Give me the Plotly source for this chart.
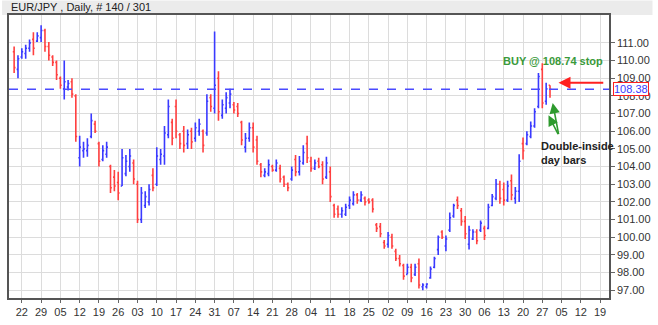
import plotly.graph_objects as go

# ---------------- data (EUR/JPY daily OHLC) ----------------
first_bar = -2  # bar index of first bar relative to the "22" week tick
opens = [110.5, 109.5,
         110.2, 110.4, 110.7, 111.2, 111.1, 111.3, 111.7, 110.8, 110.2, 109.9,
         109.0, 108.4, 108.5, 108.8, 108.0, 104.5, 104.9, 104.9, 105.7, 106.4,
         105.3, 104.4, 104.7, 104.0, 103.4, 103.1, 102.9, 103.6, 104.0, 104.2,
         103.0, 101.0, 101.8, 102.0, 103.5, 103.0, 104.4, 104.6, 105.8, 106.5,
         107.4, 105.8, 106.0, 105.3, 106.0, 105.6, 106.0, 106.0, 105.9, 107.9,
         107.3, 109.0, 106.9, 107.3, 107.6, 107.5, 107.4, 106.5, 105.1, 105.6,
         106.2, 105.5, 104.1, 103.5, 103.6, 104.0, 103.8, 103.9, 103.4, 103.0,
         103.3, 104.4, 103.7, 104.2, 105.3, 104.3, 103.9, 104.3, 104.1, 103.4,
         103.7, 101.8, 101.6, 101.3, 101.3, 101.8, 101.9, 102.4, 102.1, 102.2,
         102.1, 102.1, 100.7, 100.6, 99.7, 99.6, 100.0, 99.2, 98.8, 98.4,
         97.9, 98.3, 97.9, 98.5, 97.2, 97.2, 97.7, 98.3, 99.3, 100.3,
         99.5, 100.4, 101.2, 102.1, 101.5, 100.9, 99.6, 99.9, 100.3, 100.4,
         100.5, 100.5, 101.8, 102.2, 103.0, 102.7, 102.1, 103.2, 102.2, 102.6,
         105.3, 105.3, 105.7, 106.3, 107.4, 109.5, 107.7, 108.6]
highs = [110.8, 110.3,
         110.7, 110.9, 111.2, 111.6, 111.6, 112.0, 111.8, 111.05, 110.3, 110.0,
         109.1, 110.0, 108.9, 109.0, 108.1, 105.75, 105.4, 105.6, 107.0, 106.6,
         105.4, 105.2, 105.4, 104.1, 103.8, 103.7, 105.0, 104.65, 105.0, 104.4,
         103.2, 102.85, 102.6, 103.0, 103.9, 105.1, 105.0, 106.3, 107.8, 106.7,
         107.8, 105.9, 106.3, 106.1, 106.2, 106.5, 106.7, 106.1, 108.1, 108.1,
         111.65, 109.4, 107.8, 108.2, 108.4, 107.65, 107.6, 106.6, 105.9, 106.5,
         106.5, 105.75, 104.2, 103.9, 104.4, 104.1, 104.4, 104.1, 103.5, 103.1,
         104.0, 104.65, 104.6, 105.2, 105.75, 104.55, 104.4, 104.5, 104.3, 104.55,
         104.0, 101.9, 101.8, 101.7, 101.9, 102.3, 102.6, 102.5, 102.6, 102.3,
         102.2, 102.2, 100.8, 100.8, 99.85, 100.3, 100.2, 99.35, 99.0, 98.5,
         98.5, 98.5, 98.5, 98.8, 97.4, 97.4, 98.35, 98.9, 100.1, 100.4,
         100.1, 101.4, 101.9, 102.3, 101.65, 101.2, 100.65, 100.45, 100.45, 100.95,
         100.65, 101.9, 102.45, 103.3, 103.2, 103.1, 103.2, 103.55, 102.85, 104.7,
         105.65, 106.0, 106.55, 107.3, 109.3, 109.85, 108.74, 108.6]
lows = [109.3, 109.0,
        110.1, 110.1, 110.5, 110.3, 111.05, 111.05, 110.5, 110.0, 109.7, 108.9,
        108.4, 107.8, 108.3, 107.9, 105.4, 104.0, 104.5, 104.55, 105.6, 105.9,
        104.0, 104.3, 104.5, 102.5, 102.6, 102.1, 102.9, 103.45, 103.7, 103.0,
        100.8, 100.8, 101.65, 101.8, 102.6, 102.9, 104.1, 104.1, 105.6, 105.2,
        105.6, 105.0, 104.8, 105.0, 105.0, 105.4, 105.75, 104.8, 105.75, 107.1,
        107.0, 106.6, 106.7, 107.0, 107.3, 107.0, 106.8, 105.2, 104.8, 105.4,
        104.8, 104.1, 103.4, 103.4, 103.45, 103.7, 103.7, 103.1, 102.85, 102.6,
        103.2, 103.45, 103.5, 104.1, 104.2, 103.7, 103.8, 103.9, 103.0, 103.3,
        102.0, 101.1, 101.1, 101.1, 101.2, 101.6, 101.8, 101.9, 102.0, 101.8,
        101.9, 101.4, 100.3, 100.0, 99.35, 99.4, 99.35, 98.65, 98.35, 97.6,
        97.9, 97.45, 97.8, 97.1, 97.0, 97.1, 97.65, 98.25, 99.0, 99.9,
        99.2, 100.3, 101.1, 101.6, 100.65, 99.9, 99.3, 99.85, 99.6, 100.3,
        99.85, 100.45, 101.75, 102.1, 101.9, 101.8, 102.0, 102.1, 101.9, 102.0,
        104.4, 105.2, 105.6, 106.2, 107.3, 107.3, 107.5, 107.9]
closes = [109.6, 110.1,
          110.5, 110.7, 111.0, 110.7, 111.4, 111.7, 110.8, 110.3, 109.9, 109.2,
          108.6, 108.8, 108.7, 108.1, 105.7, 105.1, 105.0, 105.2, 106.6, 106.0,
          104.3, 104.9, 105.1, 102.8, 102.9, 102.5, 104.5, 104.3, 104.6, 103.3,
          101.0, 102.5, 102.3, 102.7, 102.8, 104.6, 104.7, 105.9, 107.4, 105.6,
          106.0, 105.3, 105.2, 105.8, 105.4, 106.2, 106.4, 105.2, 107.7, 107.4,
          108.6, 107.1, 107.5, 107.9, 108.1, 107.2, 107.0, 105.5, 105.6, 106.2,
          105.1, 104.3, 103.7, 103.7, 104.1, 103.8, 104.2, 103.3, 103.0, 102.8,
          103.8, 103.7, 104.3, 104.8, 104.5, 103.9, 104.2, 104.0, 103.3, 104.2,
          102.3, 101.3, 101.3, 101.5, 101.7, 102.1, 102.4, 102.1, 102.4, 102.0,
          102.0, 101.6, 100.5, 100.2, 99.5, 100.1, 99.5, 98.8, 98.5, 97.8,
          98.3, 97.7, 98.3, 97.3, 97.3, 97.35, 98.2, 98.8, 100.0, 100.0,
          99.9, 101.1, 101.8, 101.8, 100.9, 100.2, 100.4, 100.3, 99.8, 100.8,
          100.1, 101.7, 102.3, 103.0, 102.2, 102.1, 102.9, 102.4, 102.6, 104.3,
          104.9, 105.8, 106.3, 107.1, 109.1, 107.6, 108.4, 108.38]

week_labels = ["22", "29", "05", "12", "19", "26", "03", "10", "17", "24", "31",
               "07", "14", "21", "28", "04", "11", "18", "25", "02", "09", "16",
               "23", "30", "06", "13", "20", "27", "05", "12", "19"]
bars_per_week = 5
price_ticks = [97, 98, 99, 100, 101, 102, 103, 104, 105, 106, 107, 108, 109, 110, 111]

last_price = 108.38
buy_stop = 108.74
title_text = "EUR/JPY , Daily, # 140 / 301"

# ---------------- figure ----------------
x_idx = [first_bar + k for k in range(len(opens))]
tickvals = [w * bars_per_week for w in range(len(week_labels))]

BLUE = "#3a3aff"
RED = "#ff4040"
font_family = "Liberation Sans, Arial, sans-serif"

fig = go.Figure()
fig.add_trace(go.Ohlc(
    x=x_idx, open=opens, high=highs, low=lows, close=closes,
    increasing=dict(line=dict(color=BLUE, width=1.6)),
    decreasing=dict(line=dict(color=RED, width=1.6)),
    tickwidth=0.35, hoverinfo="skip", showlegend=False,
))

x_left, x_right = -3.33, 152.3
y_bot, y_top = 96.56, 112.58

fig.update_layout(
    width=658, height=325,
    margin=dict(l=7, r=44, t=15, b=17),
    paper_bgcolor="white", plot_bgcolor="white",
    font=dict(family=font_family, size=11, color="#333"),
    xaxis=dict(
        range=[x_left, x_right], rangeslider=dict(visible=False),
        tickmode="array", tickvals=tickvals, ticktext=week_labels,
        showgrid=True, gridcolor="#dcdcdc", gridwidth=1,
        ticks="outside", ticklen=3, tickcolor="#666",
        showline=True, linecolor="#555", linewidth=1.5, mirror=True,
        zeroline=False, tickfont=dict(size=11, color="#333"),
    ),
    yaxis=dict(
        range=[y_bot, y_top], side="right",
        tickmode="array", tickvals=price_ticks,
        ticktext=[f"{v:.2f}" for v in price_ticks],
        showgrid=True, gridcolor="#dcdcdc", gridwidth=1,
        ticks="outside", ticklen=4, tickcolor="#666",
        showline=True, linecolor="#555", linewidth=1.5, mirror=True,
        zeroline=False, tickfont=dict(size=11, color="#333"),
    ),
)

# header band
fig.add_shape(type="rect", xref="paper", yref="paper",
              x0=-7 / 607, x1=1 + 44 / 607, y0=1, y1=1 + 15 / 293,
              fillcolor="#ebebeb", line=dict(width=0), layer="below")
fig.add_annotation(xref="paper", yref="paper", x=0, y=1, xanchor="left", yanchor="bottom",
                   xshift=0, yshift=0, text=title_text, showarrow=False,
                   font=dict(size=11, color="#222"))

# last price dashed line
fig.add_shape(type="line", xref="paper", yref="y", x0=0, x1=1,
              y0=last_price, y1=last_price,
              line=dict(color="#4a4aff", width=1.5, dash="dash"))
fig.add_annotation(xref="paper", yref="y", x=1, y=last_price, xanchor="left",
                   xshift=4, text=f"{last_price:.2f}", showarrow=False,
                   font=dict(size=11, color="#3a3aff"), bgcolor="white",
                   bordercolor="#ff2020", borderwidth=1, borderpad=0)

# BUY annotation
fig.add_annotation(x=137.7, y=110.0, text=f"<b>BUY @ {buy_stop:.2f} stop</b>",
                   showarrow=False, font=dict(size=11, color="#3a9a3a"))
# red arrow
fig.add_annotation(x=139.2, y=buy_stop, ax=151.2, ay=buy_stop, axref="x", ayref="y",
                   text="", showarrow=True, arrowhead=2, arrowsize=1.2,
                   arrowwidth=2, arrowcolor="#ff2020")
# green arrows
fig.add_annotation(x=137.7, y=107.6, ax=139.3, ay=105.75, axref="x", ayref="y",
                   text="", showarrow=True, arrowhead=2, arrowsize=1.3,
                   arrowwidth=1.6, arrowcolor="#2e9a2e")
fig.add_annotation(x=136.6, y=106.9, ax=139.3, ay=105.75, axref="x", ayref="y",
                   text="", showarrow=True, arrowhead=2, arrowsize=1.3,
                   arrowwidth=1.6, arrowcolor="#2e9a2e")
fig.add_annotation(x=134.1, y=105.6, xanchor="left", yanchor="top", align="left",
                   text="<b>Double-inside<br>day bars</b>", showarrow=False,
                   font=dict(size=11, color="#222"))

fig.write_html("out.html")
